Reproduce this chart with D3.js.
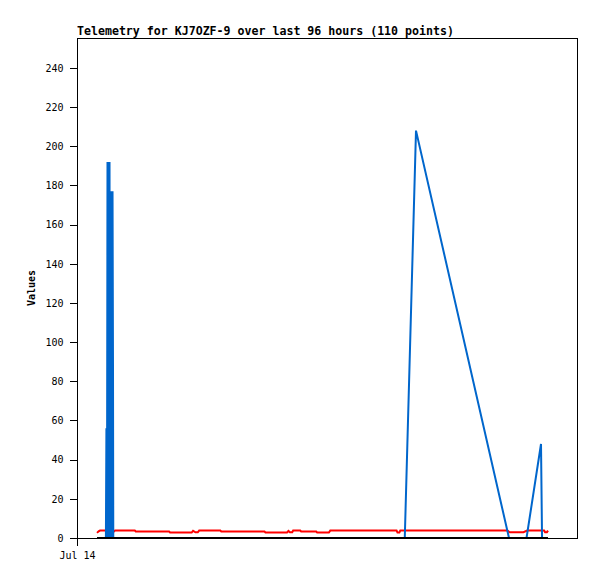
<!DOCTYPE html>
<html>
<head>
<meta charset="utf-8">
<script src="https://cdn.jsdelivr.net/npm/d3@7"></script>
<style>
  body { margin: 0; background: #fff; }
  svg { display: block; }
</style>
</head>
<body>
<div id="chart"></div>
<script>
// hours after Jul 14 00:00
var redHours = [4.26, 4.6, 4.9, 7.4, 7.7, 8.1, 12.3, 12.5, 19.6, 19.8, 24.4, 24.7, 25.2, 25.7, 26.0, 30.5, 30.7, 39.9, 40.1, 44.7, 45.0, 45.3, 45.8, 46.0, 47.5, 47.7, 50.9, 51.1, 53.6, 53.9, 68.0, 68.2, 68.6, 68.8, 91.6, 92.0, 95.0, 95.8, 99.4, 99.6, 100.0, 100.23];
var redValues = [2.6, 3.4, 3.8, 3.8, 3.0, 3.8, 3.8, 3.3, 3.3, 2.8, 2.8, 3.7, 2.9, 2.9, 3.8, 3.8, 3.3, 3.3, 2.8, 2.8, 3.6, 2.9, 2.9, 3.8, 3.8, 3.3, 3.3, 2.8, 2.8, 3.8, 3.8, 2.8, 2.8, 3.8, 3.8, 3.0, 3.0, 3.8, 3.8, 3.0, 3.0, 3.8];

var blueHours = [4.26, 6.15, 6.26, 6.38, 6.49, 6.60, 6.70, 6.81, 6.92, 7.02, 7.13, 7.24, 7.34, 7.45, 7.56, 7.66, 7.72, 69.75, 72.14, 91.93, 95.66, 98.74, 98.96, 100.23];
var blueValues = [0, 0, 56, 0, 192, 0, 192, 0, 192, 0, 128, 0, 177, 0, 177, 88, 0, 0, 208, 0, 0, 48, 0, 0];

var zeroHours = [4.26, 100.23];
var zeroValues = [0, 0];

var yTicks = [0, 20, 40, 60, 80, 100, 120, 140, 160, 180, 200, 220, 240];
var xTickLabels = ['Jul 14'];

var svgWidth = 597;
var svgHeight = 579;
var startDate = new Date(2024, 6, 14, 0, 0);
function hoursToDate(h) { return new Date(startDate.getTime() + h * 3600000); }

var svg = d3.select('#chart')
    .append('svg')
    .attr('width', svgWidth)
    .attr('height', svgHeight);

var x = d3.scaleTime()
    .domain([startDate, hoursToDate(106.4)])
    .range([77, 577]);
var y = d3.scaleLinear()
    .domain([0, 255.3])
    .range([538, 38]);

var line = d3.line()
    .x(function(d) { return x(d[0]); })
    .y(function(d) { return y(d[1]); });

function series(hours, values) {
    return hours.map(function(h, i) { return [hoursToDate(h), values[i]]; });
}

// y axis
var yAxis = svg.append('g')
    .attr('transform', 'translate(77.5,0)')
    .call(d3.axisLeft(y).tickValues(yTicks).tickSize(8).tickPadding(6));
yAxis.select('.domain').remove();
yAxis.selectAll('text')
    .attr('font-family', 'DejaVu Sans Mono')
    .attr('font-size', '10px')
    .attr('fill', '#000');
yAxis.selectAll('line').attr('shape-rendering', 'crispEdges');

// x axis
var xAxis = svg.append('g')
    .attr('transform', 'translate(0,538.5)')
    .call(d3.axisBottom(x)
        .tickValues([startDate])
        .tickFormat(function(d, i) { return xTickLabels[i]; })
        .tickSize(7).tickPadding(6));
xAxis.select('.domain').remove();
xAxis.selectAll('text')
    .attr('font-family', 'DejaVu Sans Mono')
    .attr('font-size', '10px')
    .attr('fill', '#000');
xAxis.selectAll('line').attr('shape-rendering', 'crispEdges');

// frame
svg.append('rect')
    .attr('x', 77.5)
    .attr('y', 38.5)
    .attr('width', 500)
    .attr('height', 500)
    .attr('fill', 'none')
    .attr('stroke', '#000')
    .attr('shape-rendering', 'crispEdges');

// lines
svg.append('path')
    .datum(series(redHours, redValues))
    .attr('d', line)
    .attr('fill', 'none')
    .attr('stroke', '#ff0000')
    .attr('stroke-width', 2);

svg.append('path')
    .datum(series(blueHours, blueValues))
    .attr('d', line)
    .attr('fill', 'none')
    .attr('stroke', '#0066cc')
    .attr('stroke-width', 2);

svg.append('path')
    .datum(series(zeroHours, zeroValues))
    .attr('d', line)
    .attr('fill', 'none')
    .attr('stroke', '#000')
    .attr('stroke-width', 2);

// title
svg.append('text')
    .attr('x', 77)
    .attr('y', 35)
    .text('Telemetry for KJ7OZF-9 over last 96 hours (110 points)')
    .attr('font-family', 'DejaVu Sans Mono')
    .attr('font-weight', 'bold')
    .attr('font-size', '11.6px')
    .attr('fill', '#000');

// y label
svg.append('text')
    .attr('transform', 'translate(35,288) rotate(-90)')
    .attr('text-anchor', 'middle')
    .text('Values')
    .attr('font-family', 'DejaVu Sans Mono')
    .attr('font-weight', 'bold')
    .attr('font-size', '10px')
    .attr('fill', '#000');
</script>
</body>
</html>
